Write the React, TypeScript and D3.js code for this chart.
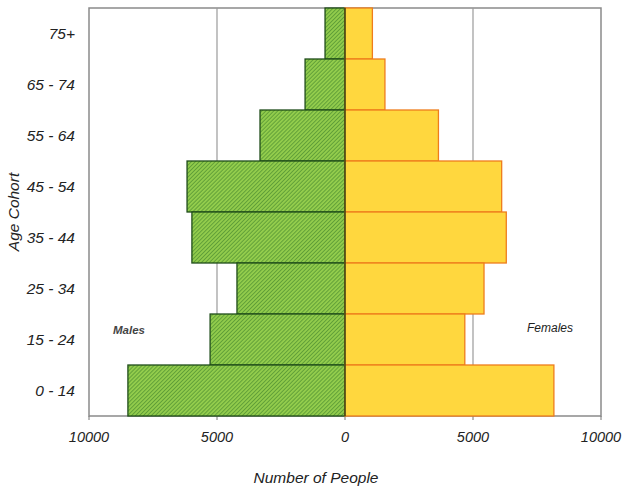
import React from "react";
import * as d3 from "d3";

const categories = ["75+", "65 - 74", "55 - 64", "45 - 54", "35 - 44", "25 - 34", "15 - 24", "0 - 14"];
const males = [780, 1560, 3320, 6170, 5980, 4220, 5270, 8480];
const females = [1070, 1560, 3650, 6120, 6300, 5430, 4680, 8160];
const tickValues = [-10000, -5000, 0, 5000, 10000];

const W = 624, H = 489;
const left = 89, right = 601, top = 8, bottom = 416;
const font = "'Liberation Sans', Arial, sans-serif";

export default function App() {
  const x = d3.scaleLinear().domain([-10000, 10000]).range([left, right]);
  const y = d3.scaleBand().domain(categories).range([top, bottom]).padding(0);

  return (
    <svg width={W} height={H} style={{ position: "absolute", left: 0, top: 0, background: "#fff" }}>
      <defs>
        <pattern id="hatch" patternUnits="userSpaceOnUse" width="2.8" height="2.8" patternTransform="rotate(45)">
          <rect width="2.8" height="2.8" fill="#92cc4c" />
          <line x1="0" y1="0" x2="0" y2="2.8" stroke="#3c7f2a" strokeWidth="1.1" />
        </pattern>
      </defs>
      {/* frame */}
      <rect x={left} y={top} width={right - left} height={bottom - top} fill="#fff" stroke="#8a8a8a" strokeWidth={1.5} />
      {/* grid */}
      {tickValues.filter(v => Math.abs(v) === 5000).map(v => (
        <line key={v} x1={x(v)} x2={x(v)} y1={top} y2={bottom} stroke="#9a9a9a" strokeWidth={1.2} />
      ))}
      {/* ticks */}
      {tickValues.map(v => (
        <line key={"t" + v} x1={x(v)} x2={x(v)} y1={bottom} y2={bottom + 4} stroke="#777" strokeWidth={1} />
      ))}
      {/* male bars */}
      {categories.map((c, i) => (
        <rect key={"m" + c} x={x(-males[i])} y={y(c)!} width={x(0) - x(-males[i])} height={y.bandwidth()}
          fill="url(#hatch)" stroke="#1f4d1a" strokeWidth={1.3} />
      ))}
      {/* female bars */}
      {categories.map((c, i) => (
        <rect key={"f" + c} x={x(0)} y={y(c)!} width={x(females[i]) - x(0)} height={y.bandwidth()}
          fill="#ffd73e" stroke="#ee7d1c" strokeWidth={1.3} />
      ))}
      <line x1={x(0)} x2={x(0)} y1={top} y2={bottom} stroke="#1f3d14" strokeWidth={1.3} />
      {/* x tick labels */}
      {tickValues.map(v => (
        <text key={"l" + v} x={x(v)} y={bottom + 26} textAnchor="middle" fontFamily={font} fontStyle="italic"
          fontSize={14.5} fill="#222">{Math.abs(v)}</text>
      ))}
      {/* y labels */}
      {categories.map(c => (
        <text key={"y" + c} x={75} y={y(c)! + y.bandwidth() / 2 + 5} textAnchor="end" fontFamily={font}
          fontStyle="italic" fontSize={15.5} fill="#222">{c}</text>
      ))}
      <text transform={`translate(19,${(top + bottom) / 2}) rotate(-90)`} textAnchor="middle" fontFamily={font}
        fontStyle="italic" fontSize={15.5} fill="#222">Age Cohort</text>
      <text x={316} y={483} textAnchor="middle" fontFamily={font} fontStyle="italic" fontSize={15.5} fill="#222">Number of People</text>
      <text x={129} y={334} textAnchor="middle" fontFamily={font} fontStyle="italic" fontWeight="bold" fontSize={11.5} fill="#444">Males</text>
      <text x={550} y={332} textAnchor="middle" fontFamily={font} fontStyle="italic" fontSize={12} fill="#222">Females</text>
    </svg>
  );
}
